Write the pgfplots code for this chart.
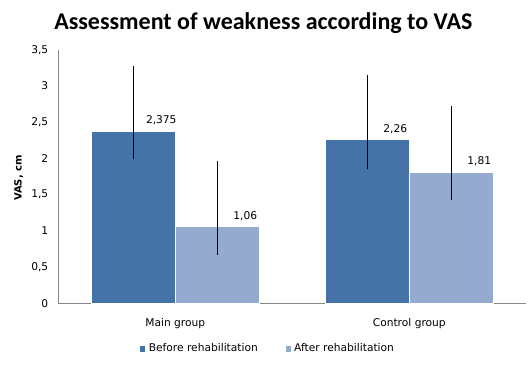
\documentclass[border=0pt]{standalone}
\usepackage{pgfplots}
\pgfplotsset{compat=1.18}
\usepackage{fontspec}
\setmainfont{DejaVu Sans}
\newfontfamily\titlefont{Carlito}
\definecolor{cBefore}{HTML}{4572A7}
\definecolor{cAfter}{HTML}{95AACF}
\definecolor{axgray}{HTML}{868686}
\begin{document}
\begin{tikzpicture}
\path[use as bounding box,fill=white] (0,0) rectangle (397.5pt,273.75pt);
\node[font=\titlefont\bfseries\fontsize{18pt}{21pt}\selectfont] at (197.5pt,256.5pt) {Assessment of weakness according to VAS};
\node[rotate=90,font=\bfseries\fontsize{7.5pt}{9pt}\selectfont] at (14pt,140.25pt) {VAS, cm};
\begin{axis}[
  at={(43.7pt,46.3pt)}, anchor=south west,
  scale only axis, width=351pt, height=190.1pt,
  xmin=-0.5, xmax=1.5, ymin=0, ymax=3.5,
  ytick={0,0.5,...,3.5},
  xtick={0,1}, xticklabels={Main group, Control group},
  major tick length=0pt,
  axis x line*=bottom, axis y line*=left,
  axis line style={axgray, line width=0.75pt, -},
  ticklabel style={font=\fontsize{8pt}{10pt}\selectfont},
  /pgf/number format/use comma,
  /pgf/number format/assume math mode=true,
  yticklabel style={xshift=-4pt},
  xticklabel style={yshift=-7.5pt},
  ybar=0pt, bar width=63pt,
  error bars/error bar style={black, line width=0.9pt},
  error bars/error mark=none,
  legend style={at={(0.448,-0.18)}, anchor=center, draw=none, legend columns=2,
    font=\fontsize{8pt}{10pt}\selectfont,
    /tikz/every even column/.append style={column sep=18pt}},
  legend image code/.code={\fill[#1] (0pt,-2.3pt) rectangle (4.6pt,2.3pt);},
  nodes near coords,
  nodes near coords style={font=\fontsize{8pt}{10pt}\selectfont, anchor=center, xshift=21pt, yshift=8pt,
    /pgf/number format/use comma, /pgf/number format/precision=3},
  clip=false,
]
\addplot[fill=cBefore, draw=white, line width=0.6pt,
  error bars/.cd, y dir=both, y explicit]
  coordinates {(0,2.375) += (0,0.90) -= (0,0.385) (1,2.26) += (0,0.89) -= (0,0.40)};
\addplot[fill=cAfter, draw=white, line width=0.6pt,
  error bars/.cd, y dir=both, y explicit]
  coordinates {(0,1.06) += (0,0.90) -= (0,0.39) (1,1.81) += (0,0.91) -= (0,0.38)};
\legend{Before rehabilitation, After rehabilitation}
\end{axis}
\end{tikzpicture}
\end{document}
